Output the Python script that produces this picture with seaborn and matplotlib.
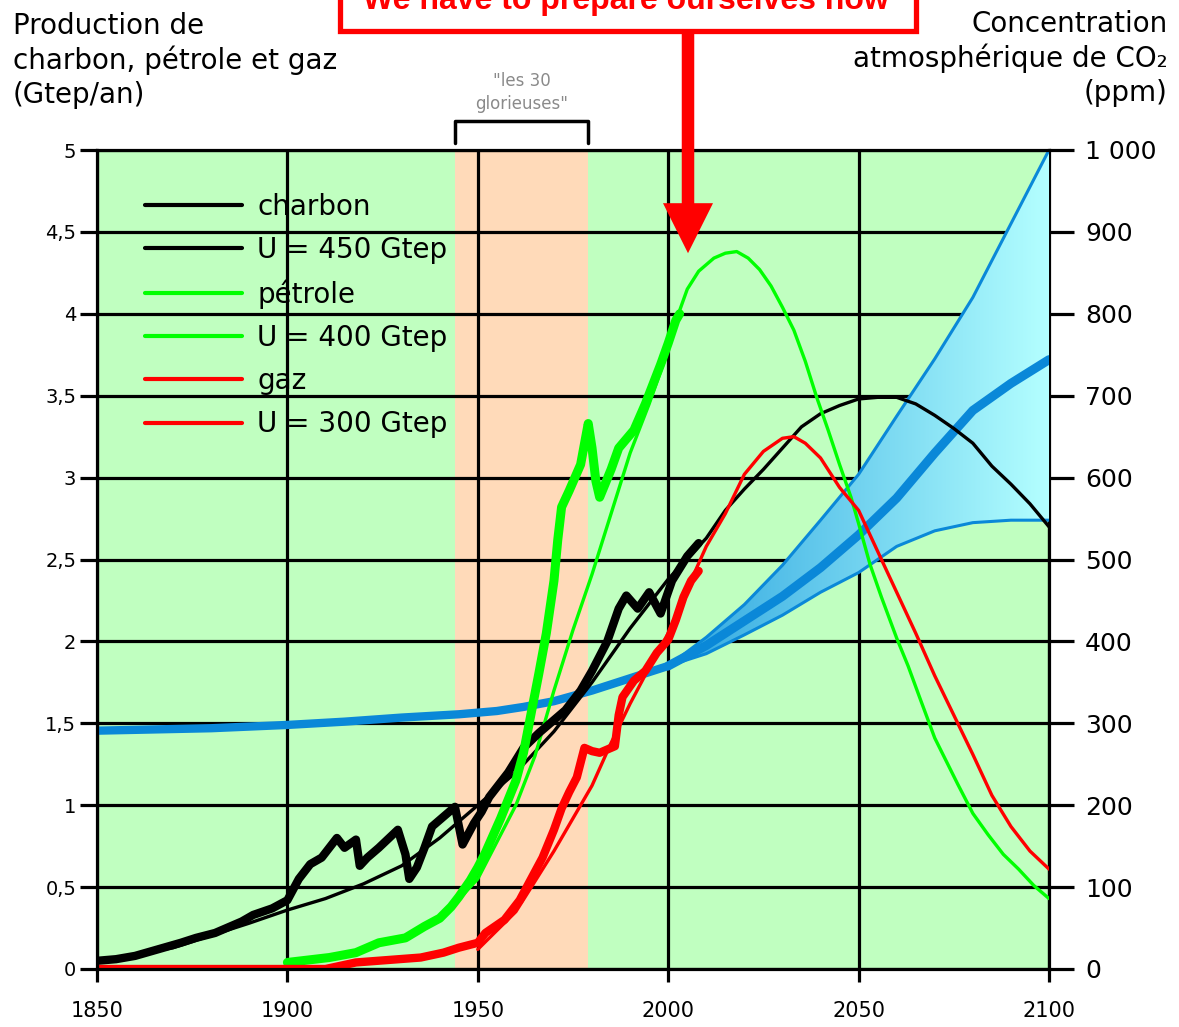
import numpy as np
import matplotlib
matplotlib.use("Agg")
import matplotlib.pyplot as plt
import matplotlib.colors as mcolors
from matplotlib.lines import Line2D
from matplotlib.patches import Rectangle
from matplotlib.ticker import FuncFormatter, MultipleLocator
import seaborn as sns

# -------------------------------
# Data
# -------------------------------
# coal (charbon), historical production, Gtep/an
coal_hist_years = [1850, 1855, 1860, 1866, 1872, 1876, 1881, 1885, 1888, 1891, 1896, 1900,
                   1903, 1906, 1909, 1913, 1915, 1918, 1919, 1921, 1924, 1929, 1931, 1932,
                   1934, 1936, 1938, 1942, 1944, 1946, 1949, 1951, 1953, 1958, 1962, 1966,
                   1970, 1973, 1977, 1980, 1984, 1987, 1989, 1992, 1995, 1998, 2001, 2005, 2008]
coal_hist = [0.05, 0.06, 0.08, 0.12, 0.16, 0.19, 0.22, 0.26, 0.29, 0.33, 0.37, 0.42,
             0.55, 0.64, 0.68, 0.80, 0.74, 0.79, 0.63, 0.68, 0.74, 0.85, 0.70, 0.55,
             0.62, 0.74, 0.87, 0.95, 0.99, 0.76, 0.89, 0.96, 1.05, 1.20, 1.35, 1.44,
             1.52, 1.58, 1.70, 1.82, 2.00, 2.20, 2.28, 2.20, 2.30, 2.17, 2.37, 2.52, 2.60]
# coal, Hubbert model (U = 450 Gtep)
coal_model_years = [1850, 1870, 1890, 1900, 1910, 1920, 1930, 1940, 1950, 1960, 1970, 1980,
                    1990, 2000, 2010, 2015, 2020, 2025, 2030, 2035, 2040, 2045, 2050, 2055,
                    2060, 2065, 2070, 2075, 2080, 2085, 2090, 2095, 2100]
coal_model = [0.05, 0.13, 0.28, 0.36, 0.43, 0.52, 0.63, 0.80, 1.00, 1.20, 1.45, 1.75,
              2.08, 2.38, 2.63, 2.80, 2.93, 3.05, 3.18, 3.31, 3.39, 3.44, 3.48, 3.49,
              3.49, 3.45, 3.38, 3.30, 3.21, 3.07, 2.96, 2.84, 2.70]

# oil (pétrole)
oil_hist_years = [1900, 1911, 1918, 1924, 1931, 1936, 1940, 1943, 1945, 1948, 1950, 1952,
                  1956, 1960, 1962, 1964, 1966, 1968, 1970, 1971, 1972, 1974, 1977, 1979,
                  1980, 1981, 1982, 1985, 1987, 1991, 1994, 1998, 2000, 2002, 2003]
oil_hist = [0.04, 0.07, 0.10, 0.16, 0.19, 0.26, 0.31, 0.38, 0.44, 0.54, 0.62, 0.71,
            0.92, 1.15, 1.32, 1.56, 1.80, 2.05, 2.37, 2.62, 2.82, 2.92, 3.08, 3.33,
            3.18, 2.98, 2.88, 3.05, 3.18, 3.29, 3.45, 3.69, 3.82, 3.96, 4.00]
oil_model_years = [1940, 1950, 1960, 1965, 1970, 1975, 1980, 1985, 1990, 1995, 2000, 2003,
                   2005, 2008, 2012, 2015, 2018, 2021, 2024, 2027, 2030, 2033, 2036, 2039,
                   2042, 2045, 2048, 2050, 2053, 2056, 2060, 2063, 2066, 2070, 2073, 2076,
                   2080, 2084, 2088, 2092, 2096, 2100]
oil_model = [0.30, 0.55, 1.00, 1.30, 1.70, 2.07, 2.41, 2.78, 3.15, 3.45, 3.78, 4.02,
             4.15, 4.26, 4.34, 4.37, 4.38, 4.34, 4.27, 4.17, 4.04, 3.90, 3.71, 3.49,
             3.29, 3.08, 2.88, 2.72, 2.47, 2.27, 2.02, 1.85, 1.66, 1.41, 1.27, 1.13,
             0.95, 0.82, 0.70, 0.61, 0.51, 0.43]

# gas (gaz)
gas_hist_years = [1850, 1910, 1918, 1935, 1941, 1945, 1950, 1952, 1957, 1961, 1964, 1967,
                  1970, 1972, 1974, 1976, 1978, 1980, 1982, 1984, 1986, 1987, 1988, 1991,
                  1994, 1997, 2000, 2002, 2004, 2006, 2008]
gas_hist = [0.00, 0.00, 0.04, 0.07, 0.10, 0.13, 0.16, 0.22, 0.30, 0.42, 0.55, 0.68,
            0.85, 0.98, 1.08, 1.17, 1.35, 1.33, 1.32, 1.34, 1.36, 1.55, 1.66, 1.76,
            1.82, 1.93, 2.01, 2.13, 2.27, 2.37, 2.43]
gas_model_years = [1950, 1960, 1970, 1975, 1980, 1985, 1990, 1995, 2000, 2005, 2010, 2015,
                   2020, 2025, 2030, 2033, 2036, 2040, 2045, 2050, 2055, 2060, 2065, 2070,
                   2075, 2080, 2085, 2090, 2095, 2100]
gas_model = [0.12, 0.35, 0.72, 0.92, 1.12, 1.38, 1.62, 1.84, 2.05, 2.32, 2.58, 2.78,
             3.02, 3.16, 3.24, 3.25, 3.21, 3.12, 2.94, 2.80, 2.55, 2.30, 2.05, 1.79,
             1.55, 1.31, 1.06, 0.87, 0.72, 0.61]

# atmospheric CO2 (ppm)
co2_hist_years = [1850, 1880, 1900, 1915, 1930, 1945, 1955, 1962, 1970, 1980, 1990, 2000]
co2_hist = [291, 294, 298, 302, 307, 311, 315, 320, 327, 340, 355, 370]
co2_fut_years = [2000, 2010, 2020, 2030, 2040, 2050, 2060, 2070, 2080, 2090, 2100]
co2_high = [370, 405, 445, 493, 548, 604, 675, 745, 820, 910, 1000]
co2_mid = [370, 395, 425, 455, 490, 530, 575, 630, 682, 715, 744]
co2_low = [370, 385, 408, 432, 460, 484, 516, 535, 545, 548, 548]

glorieuses = (1944, 1979)
legend_labels = ["charbon", "U = 450 Gtep", "pétrole", "U = 400 Gtep", "gaz", "U = 300 Gtep"]
year_ticks = [1850, 1900, 1950, 2000, 2050, 2100]

# -------------------------------
# Figure
# -------------------------------
sns.set_theme(style="white")
plt.rcParams['font.family'] = ['DejaVu Sans']
plt.rcParams['text.color'] = 'black'
plt.rcParams['xtick.color'] = 'black'
plt.rcParams['ytick.color'] = 'black'

W, H = 1179, 1027
fig = plt.figure(figsize=(W / 100, H / 100), dpi=100)
ax = fig.add_axes([97 / W, 1 - 969 / H, (1049 - 97) / W, (969 - 150) / H])
ax2 = ax.twinx()
ax.set_zorder(ax2.get_zorder() + 1)
ax.patch.set_visible(False)
ax2.patch.set_visible(True)
ax2.set_facecolor('#C0FFC0')

# background band + grid (on the lower axes so the CO2 fan covers it)
ax2.axvspan(*glorieuses, color='#FFDAB9', lw=0, zorder=0.2)
ax2.xaxis.set_visible(True)
ax2.set_axisbelow(True)
ax2.grid(True, color='black', lw=2.3)
ax2.tick_params(axis='x', bottom=False, top=False, labelbottom=False, labeltop=False)

# CO2 fan with horizontal gradient
poly = ax2.fill_between(co2_fut_years, co2_low, co2_high, color='none', lw=0)
fan_cmap = mcolors.LinearSegmentedColormap.from_list('fan', ['#2EA6E0', '#B4FFFF'])
im = ax2.imshow(np.linspace(0, 1, 256).reshape(1, -1), cmap=fan_cmap,
                extent=[co2_fut_years[0], co2_fut_years[-1], 0, 1000],
                aspect='auto', origin='lower', zorder=2.6, interpolation='bilinear')
im.set_clip_path(poly.get_paths()[0], transform=ax2.transData)

blue = '#0A88D8'
sns.lineplot(x=co2_hist_years, y=co2_hist, ax=ax2, color=blue, lw=6, zorder=2.8)
sns.lineplot(x=co2_fut_years, y=co2_mid, ax=ax2, color=blue, lw=6.5, zorder=2.8)
sns.lineplot(x=co2_fut_years, y=co2_high, ax=ax2, color=blue, lw=2.2, zorder=2.8)
sns.lineplot(x=co2_fut_years, y=co2_low, ax=ax2, color=blue, lw=2.2, zorder=2.8)

# production curves
curves = [
    (coal_model_years, coal_model, 'black', 2.4),
    (oil_model_years, oil_model, '#00FF00', 2.4),
    (gas_model_years, gas_model, '#FF0000', 2.4),
    (coal_hist_years, coal_hist, 'black', 6),
    (oil_hist_years, oil_hist, '#00FF00', 6.5),
    (gas_hist_years, gas_hist, '#FF0000', 6),
]
for xs, ys, col, lw in curves:
    sns.lineplot(x=xs, y=ys, ax=ax, color=col, lw=lw, estimator=None, sort=False)

# axes, ticks
ax.set_xlim(1850, 2100)
ax.set_ylim(0, 5)
ax2.set_xlim(1850, 2100)
ax2.set_ylim(0, 1000)
ax.set_xticks(year_ticks)
ax.yaxis.set_major_locator(MultipleLocator(0.5))
ax2.yaxis.set_major_locator(MultipleLocator(100))
ax.yaxis.set_major_formatter(FuncFormatter(lambda v, p: f"{v:g}".replace('.', ',')))
ax2.yaxis.set_major_formatter(FuncFormatter(lambda v, p: f"{int(v):,}".replace(',', ' ')))
ax.set_xlabel('')
ax.set_ylabel('')
ax2.set_ylabel('')

for s in ['left', 'bottom', 'top']:
    ax.spines[s].set_color('black')
    ax.spines[s].set_linewidth(2.3)
ax.spines['right'].set_visible(False)
for s in ['left', 'bottom', 'top']:
    ax2.spines[s].set_visible(False)
ax2.spines['right'].set_color('black')
ax2.spines['right'].set_linewidth(2.3)

ax.tick_params(axis='y', direction='out', length=12, width=2.3, colors='black',
               labelsize=14, pad=3, left=True)
ax.tick_params(axis='x', direction='out', length=9, width=2.3, colors='black',
               labelsize=15, pad=14, bottom=True)
ax2.tick_params(axis='y', direction='out', length=18, width=2.3, colors='black',
                labelsize=18, pad=8, right=True)

# legend
handles = [Line2D([], [], color=c, lw=3) for c in
           ['black', 'black', '#00FF00', '#00FF00', '#FF0000', '#FF0000']]
ax.legend(handles, legend_labels, loc='upper left', bbox_to_anchor=(0.05, 0.948),
          frameon=False, fontsize=20, handlelength=3.5, handletextpad=0.55,
          labelspacing=0.55, borderpad=0, borderaxespad=0, labelcolor='black')

# "trente glorieuses" bracket
mid = sum(glorieuses) / 2
ax.plot([glorieuses[0], glorieuses[0], glorieuses[1], glorieuses[1]],
        [5.04, 5.18, 5.18, 5.04], color='black', lw=2.5, clip_on=False)
ax.text(mid, 5.35, '"les 30\nglorieuses"', ha='center', va='center', fontsize=12,
        color='#8a8a8a', linespacing=1.35, clip_on=False)

# axis titles
fig.text(13 / W, 1 - 12 / H, "Production de\ncharbon, pétrole et gaz\n(Gtep/an)",
         ha='left', va='top', fontsize=20, linespacing=1.25)
fig.text(1168 / W, 1 - 10 / H, "Concentration\natmosphérique de CO₂\n(ppm)",
         ha='right', va='top', fontsize=20, linespacing=1.25, multialignment='right')

# red call-out box (cut by the top edge, as in the source) and arrow
fig.patches.append(Rectangle((340 / W, 1 - 31 / H), (916 - 340) / W, 60 / H,
                             transform=fig.transFigure, facecolor='white',
                             edgecolor='#FF0000', lw=3.8, zorder=5))
fig.text(626 / W, 1 - 9 / H, "We have to prepare ourselves now", ha='center',
         va='baseline', color='#FF0000', fontsize=23, fontweight='bold',
         family=['Liberation Sans', 'DejaVu Sans'], zorder=6)
ax.annotate('', xy=(2005.2, 4.37), xytext=(2005.2, 5.73), annotation_clip=False,
            arrowprops=dict(arrowstyle='simple,head_length=1.2,head_width=1.2,tail_width=0.3',
                            mutation_scale=30, lw=0, color='#FF0000',
                            shrinkA=0, shrinkB=0))

fig.savefig('out.png', dpi=100)
